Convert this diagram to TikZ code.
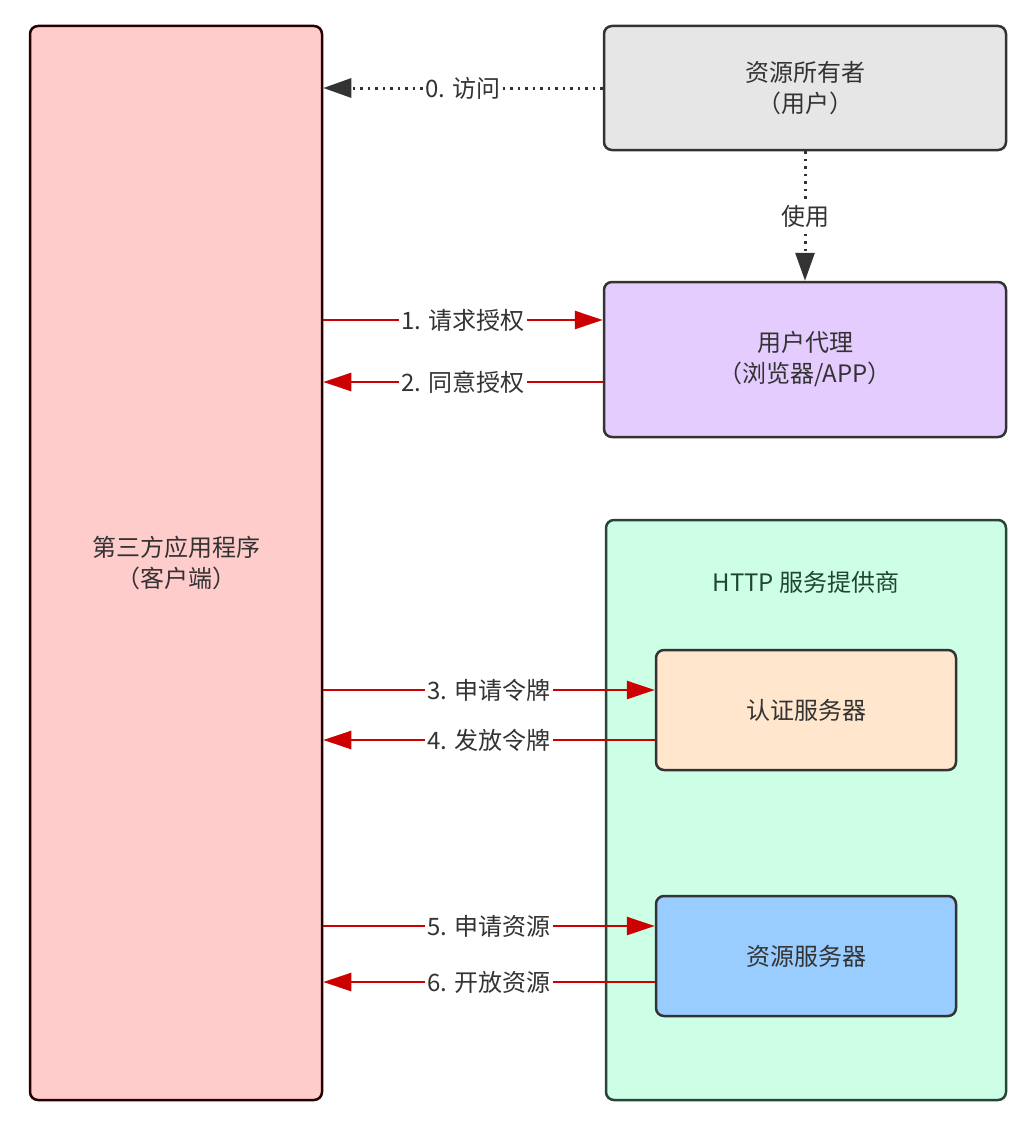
\documentclass[tikz,border=0pt]{standalone}
\usepackage{fontspec}
\setmainfont{Noto Sans CJK SC}
\usetikzlibrary{arrows.meta,calc}
\definecolor{txt}{HTML}{333333}
\definecolor{edge}{HTML}{333333}
\definecolor{redl}{HTML}{CC0000}
\tikzset{
  box/.style={draw=edge,line width=2.5pt,rounded corners=8pt,align=center,text=txt,
    font=\fontsize{24}{31}\selectfont,inner sep=0pt},
  redarrow/.style={draw=redl,line width=2.5pt,-{Triangle[length=28pt,width=18pt]}},
  dotarrow/.style={draw=black!80,line width=3pt,dash pattern=on 2.5pt off 5pt,
    -{Triangle[length=28pt,width=19pt,fill=black!80]}},
  lbl/.style={fill=white,inner sep=2pt,text=txt,font=\fontsize{24}{28}\selectfont},
}
\begin{document}
\begin{tikzpicture}[x=1pt,y=-1pt]
\useasboundingbox[fill=white] (0,0) rectangle (1034,1124);
% boxes
\node[box,draw=black!75!red!60!black,fill={rgb,255:red,255;green,204;blue,204},minimum width=292pt,minimum height=1074pt] (client) at (176,563) {第三方应用程序\\（客户端）};
\node[box,fill={rgb,255:red,230;green,230;blue,230},minimum width=402pt,minimum height=124pt] (owner) at (805,88) {资源所有者\\（用户）};
\node[box,fill={rgb,255:red,229;green,204;blue,255},minimum width=402pt,minimum height=155pt] (agent) at (805,359.5) {用户代理\\（浏览器/APP）};
\node[box,draw={rgb,255:red,40;green,70;blue,55},fill={rgb,255:red,204;green,255;blue,230},minimum width=400pt,minimum height=580pt] (http) at (806,810) {};
\node[text={rgb,255:red,30;green,70;blue,50},font=\fontsize{24}{28}\selectfont] (httpt) at (806,582) {HTTP 服务提供商};
\node[box,fill={rgb,255:red,255;green,230;blue,204},minimum width=300pt,minimum height=120pt] (auth) at (806,710) {认证服务器};
\node[box,fill={rgb,255:red,153;green,204;blue,255},minimum width=300pt,minimum height=120pt] (res) at (806,956) {资源服务器};
% connectors
\draw[dotarrow] (owner.west) -- (client.east |- owner.west) node[lbl,midway] {0. 访问};
\draw[dotarrow] (owner.south) -- (agent.north) node[lbl,midway] {使用};
\path ([yshift=39.5pt]agent.west) coordinate (a1) ([yshift=-22.5pt]agent.west) coordinate (a2);
\draw[redarrow] (client.east |- a1) -- (a1) node[lbl,midway] {1. 请求授权};
\draw[redarrow] (a2) -- (client.east |- a2) node[lbl,midway] {2. 同意授权};
\path ([yshift=20pt]auth.west) coordinate (b1) ([yshift=-30pt]auth.west) coordinate (b2);
\draw[redarrow] (client.east |- b1) -- (b1) node[lbl,midway] {3. 申请令牌};
\draw[redarrow] (b2) -- (client.east |- b2) node[lbl,midway] {4. 发放令牌};
\path ([yshift=30pt]res.west) coordinate (c1) ([yshift=-26pt]res.west) coordinate (c2);
\draw[redarrow] (client.east |- c1) -- (c1) node[lbl,midway] {5. 申请资源};
\draw[redarrow] (c2) -- (client.east |- c2) node[lbl,midway] {6. 开放资源};
\end{tikzpicture}
\end{document}
